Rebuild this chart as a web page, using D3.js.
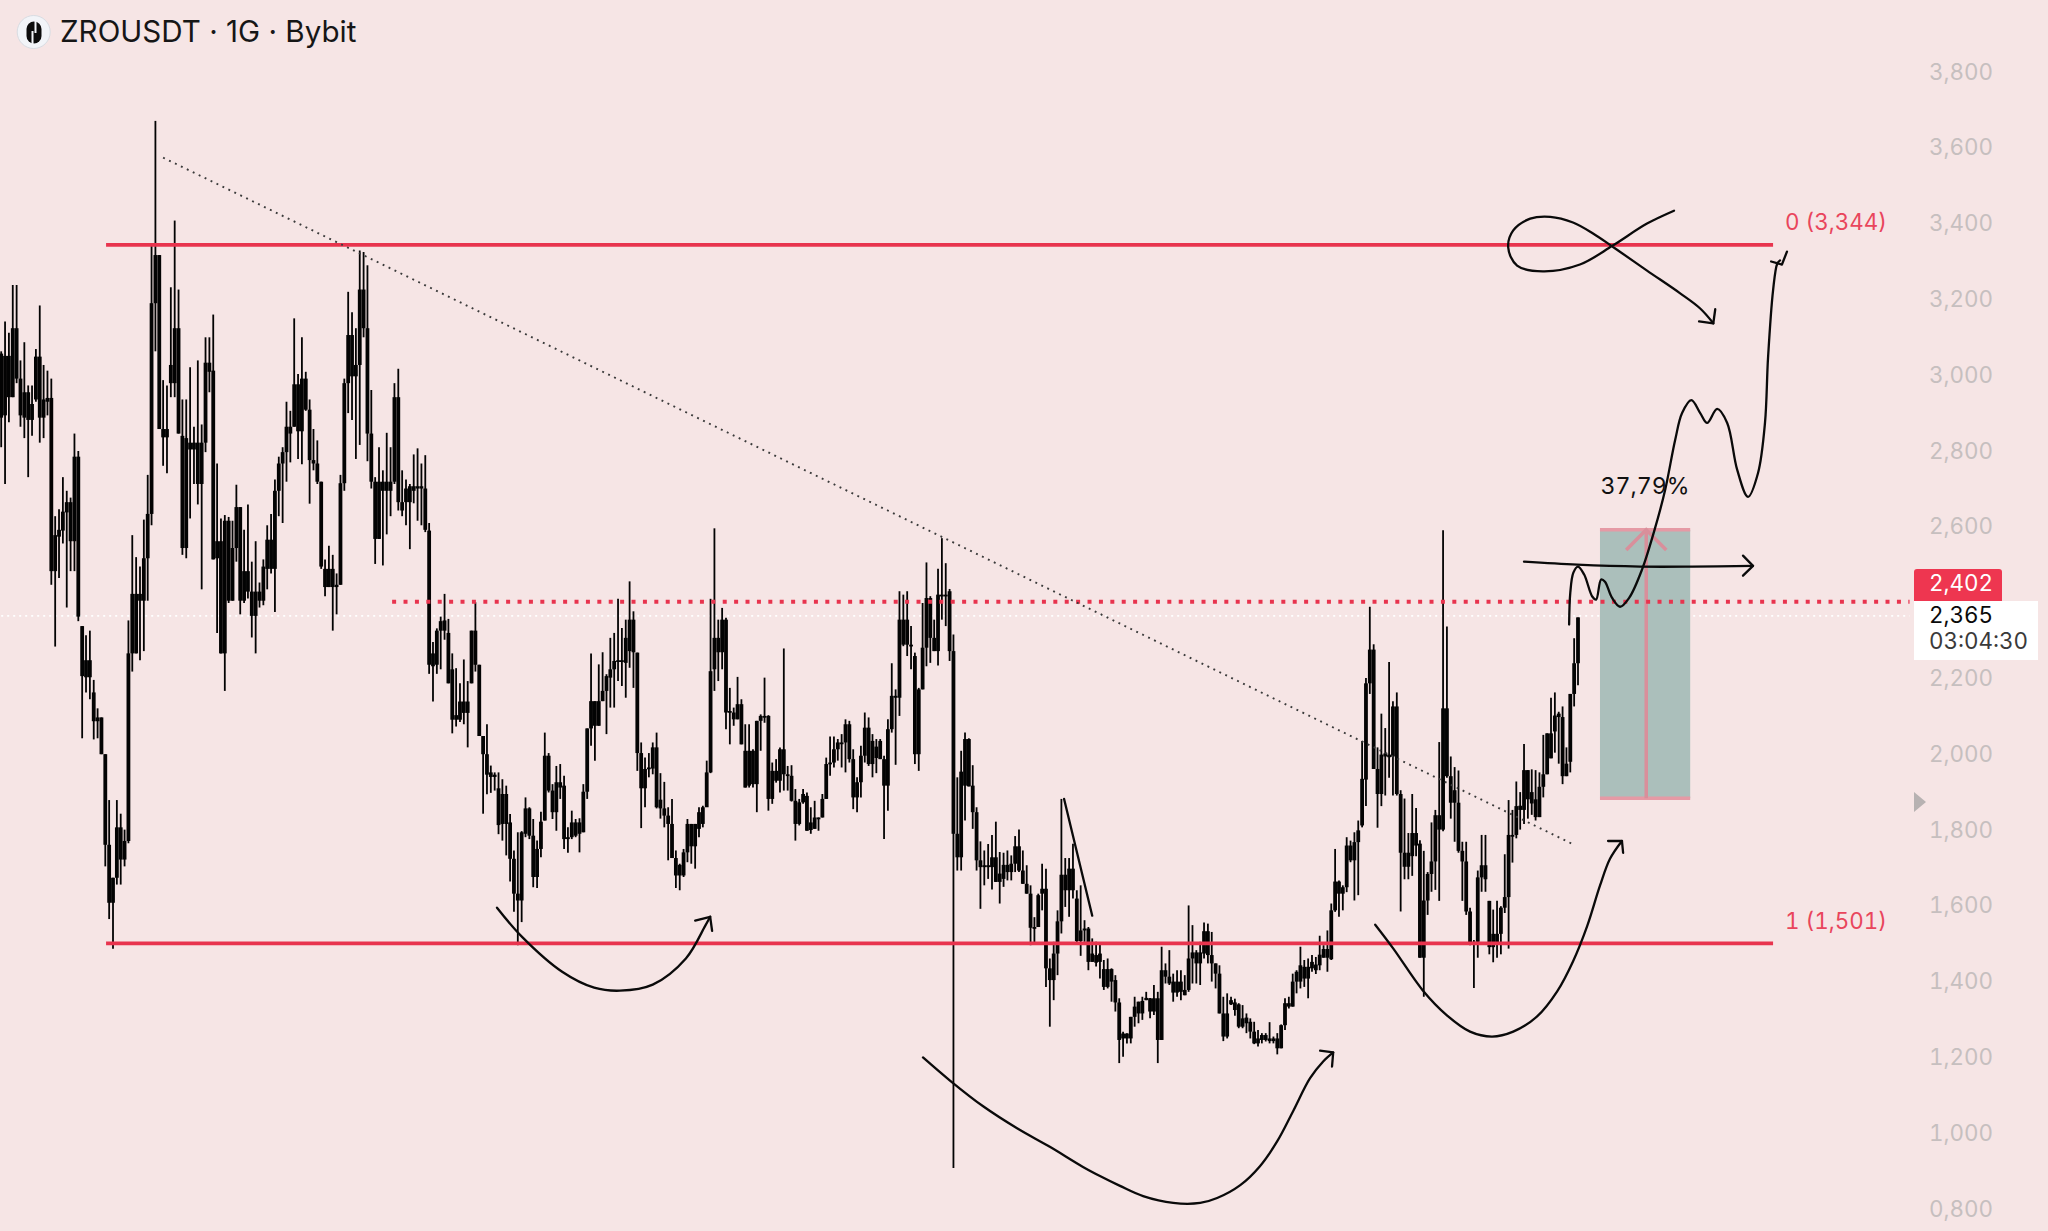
<!DOCTYPE html>
<html>
<head>
<meta charset="utf-8">
<title>ZROUSDT</title>
<script src="https://cdnjs.cloudflare.com/ajax/libs/d3/7.9.0/d3.min.js"></script>
<style>
  html, body { margin: 0; padding: 0; background: #f6e5e5; }
  svg { display: block; }
  text { font-variant-numeric: tabular-nums; }
</style>
</head>
<body>
<svg id="chart"></svg>
<script>
// candles: [high, low, body top, body bottom]
var firstPeaks = [
  [3063,2810,3057,2888],[3142,2713,3051,2894],[3112,2876,3051,2942],[3238,2942,3124,2942],[3238,2979,3124,2991],
  [3039,2864,2991,2894],[3087,2834,2955,2888],[2973,2731,2955,2882],[2973,2840,2924,2882],[3069,2930,3049,2936],
  [3184,2822,3049,2888],[3027,2834,2936,2888],[3012,2894,2940,2930],[2991,2447,2940,2483],[2628,2284,2578,2483],
  [2646,2465,2592,2574],[2731,2556,2640,2590],[2695,2387,2665,2638],[2677,2483,2665,2562],[2846,2483,2785,2562],
  [2800,2351,2785,2363],[2338,2042,2338,2206],[2314,2163,2248,2203],[2326,2145,2248,2203],[2196,2039,2163,2087],
  [2121,2042,2097,2087],[2097,2000,2097,2000],[2000,1704,2000,1761],[1879,1565,1761,1608],[1674,1487,1674,1608],
  [1879,1656,1807,1674],[1843,1656,1807,1722],[1801,1704,1771,1722],[2353,1765,2266,1771],[2578,2218,2423,2266],
  [2520,2266,2423,2266],[2495,2248,2423,2405],[2619,2272,2517,2405],[2737,2405,2634,2517],[3347,2604,3190,2634],
  [3671,3063,3317,3190],[3317,2858,3317,2858],[2987,2761,2858,2836],[2973,2741,2858,2836],[3232,2942,3027,2979],
  [3408,2942,3124,2979],[3226,2846,3124,2846],[2936,2526,2840,2544],[2936,2517,2834,2544],[3021,2622,2822,2804],
  [2864,2713,2822,2804],[3039,2659,2822,2713],[2870,2435,2822,2713],[3100,2797,3033,2822],[3100,2955,3033,3009],
  [3160,2514,3012,2514],[2767,2320,2562,2517],[2622,2266,2562,2266],[2631,2167,2616,2266],[2626,2399,2616,2405],
  [2616,2405,2544,2405],[2711,2508,2652,2544],[2652,2369,2652,2405],[2592,2399,2483,2405],[2659,2411,2483,2429],
  [2508,2308,2429,2365],[2562,2266,2429,2365],[2453,2387,2429,2405],[2514,2393,2495,2405],[2604,2435,2566,2489],
  [2634,2477,2566,2489],[2725,2375,2695,2489],[2785,2628,2767,2695],[2810,2610,2797,2767],[2930,2719,2864,2797],
  [2906,2770,2864,2846],[3150,2864,2976,2864],[3003,2779,2976,2852],[3100,2765,2991,2852],[3009,2906,2991,2909]
];
var upperRange = [
  [2936,2661,2909,2776],[2858,2749,2776,2767],[2828,2713,2767,2719],[2719,2489,2719,2495],[2514,2417,2489,2441],
  [2550,2441,2489,2441],[2526,2326,2489,2441],[2477,2369,2447,2441],[2737,2447,2715,2447],[2991,2695,2979,2715],
  [3220,2900,3106,2979],[3166,2882,3106,2997],[3124,2779,3027,2997],[3329,2816,3226,3027],[3325,3100,3226,3124],
  [3290,2773,3124,2846],[2961,2701,2846,2719],[2731,2502,2719,2568],[2810,2568,2719,2568],[2749,2498,2719,2695],
  [2848,2580,2719,2695],[2810,2628,2719,2695],[2979,2713,2942,2719],[3017,2643,2942,2665],[2749,2628,2665,2643],
  [2725,2604,2701,2665],[2713,2541,2707,2665],[2791,2662,2707,2695],[2807,2616,2707,2701],[2767,2604,2707,2701],
  [2789,2586,2701,2592],[2610,2212,2590,2236],[2296,2139,2266,2232],[2332,2212,2326,2236],[2363,2224,2351,2326],
  [2423,2302,2353,2326],[2357,2187,2320,2187],[2266,2055,2224,2091],[2227,2073,2103,2091],[2187,2085,2139,2091],
  [2250,2079,2139,2109],[2193,2018,2139,2109],[2326,2187,2326,2187],[2401,2218,2326,2236],[2236,2048,2236,2048],
  [2048,1843,2048,2000],[2079,1894,2000,1946],[1970,1898,1952,1940],[1952,1904,1946,1940],[1952,1789,1910,1813]
];
var firstBase = [
  [1934,1772,1895,1816],[1917,1733,1895,1816],[1842,1664,1820,1724],[1746,1584,1724,1632],[1794,1496,1632,1614],
  [1797,1557,1794,1614],[1886,1781,1857,1790],[1860,1776,1857,1785],[1829,1649,1785,1676],[1772,1647,1750,1676],
  [1848,1728,1822,1750],[2057,1825,1996,1825],[2003,1899,1996,1904],[1921,1829,1904,1847],[1969,1798,1926,1847],
  [1974,1882,1926,1912],[1943,1750,1917,1776],[1807,1740,1781,1776],[1851,1776,1820,1781],[1829,1781,1820,1785],
  [1831,1741,1820,1790],[1921,1794,1901,1794],[2068,1882,2068,1901],[2266,2022,2140,2068],[2140,1983,2140,2075],
  [2237,2075,2140,2075],[2269,2140,2167,2140],[2211,2053,2206,2167],[2307,2123,2224,2202],[2320,2123,2246,2224],
  [2410,2193,2248,2246],[2333,2180,2248,2246],[2355,2149,2307,2241],[2456,2228,2355,2272],[2377,2175,2355,2269],
  [2268,1956,2268,2003],[2031,1805,2003,1910],[1991,1860,1961,1910],[2003,1939,1965,1961],[2031,1947,2018,1962],
  [2057,1857,2018,1860],[1950,1830,1880,1857],[1927,1807,1857,1838],[1860,1720,1838,1816],[1882,1726,1816,1726],
  [1746,1647,1726,1680],[1711,1641,1708,1680],[1750,1676,1741,1680],[1829,1715,1816,1741],[1816,1711,1816,1757],
  [1816,1698,1816,1757],[1860,1781,1847,1803],[1864,1807,1860,1816],[1983,1886,1952,1860],[2410,1950,2219,1952]
];
var middleRange = [
  [2596,2167,2307,2224],[2355,2193,2307,2269],[2386,2224,2355,2269],[2360,2066,2355,2110],[2175,2026,2114,2110],
  [2123,2075,2110,2092],[2204,2092,2132,2092],[2145,2026,2132,2026],[2079,1912,2009,1912],[2079,1912,2009,1917],
  [2013,1912,2009,1921],[2088,1847,2088,1921],[2105,2009,2101,2088],[2202,2083,2101,2097],[2103,1851,2101,1882],
  [1978,1869,1956,1882],[1987,1925,1956,1930],[2018,1899,2013,1930],[2279,1904,2013,1947],[1969,1904,1947,1943],
  [1971,1875,1943,1877],[1908,1772,1877,1816],[1882,1812,1873,1816],[1908,1869,1895,1873],[1899,1798,1890,1798],
  [1860,1790,1820,1800],[1877,1803,1833,1803],[1833,1798,1833,1829],[1895,1833,1882,1833],[1991,1882,1974,1882],
  [2047,1943,1978,1974],[2047,1965,2013,1978],[2040,1983,2031,2013],[2053,1965,2031,2029],[2092,1952,2079,2031],
  [2088,1978,2079,1987],[2013,1855,1987,1886],[1939,1847,1926,1886],[2022,1886,1996,1926],[2110,1978,2070,1996],
  [2097,1969,2070,1974],[2053,1939,2035,1974],[2040,1950,2020,1990],[2040,1987,2035,1987],[1996,1776,1987,1917],
  [2092,1851,2066,1917],[2240,2057,2154,2066],[2171,1972,2154,2149],[2430,2101,2355,2149],[2421,2285,2355,2289],
  [2430,2259,2355,2289],[2338,2224,2289,2285],[2268,1974,2259,2000],[2175,1956,2171,2000],[2399,2171,2281,2171],
  [2506,2232,2412,2281],[2417,2241,2412,2307],[2355,2272,2307,2272],[2489,2234,2421,2272],[2570,2355,2421,2417],
  [2504,2338,2421,2417],[2436,2246,2430,2272],[2316,908,2272,1790]
];
var afterWick = [
  [1939,1693,1790,1728],[2009,1693,1954,1728],[2057,1825,2040,1917],[2042,1915,2040,1915],[1971,1803,1917,1847],
  [1860,1693,1847,1720],[1770,1592,1720,1702],[1746,1654,1707,1702],[1763,1671,1707,1702],[1787,1643,1728,1702],
  [1822,1663,1728,1663],[1742,1606,1685,1663],[1740,1650,1708,1671],[1746,1667,1708,1689],[1733,1667,1711,1689],
  [1784,1689,1757,1711],[1801,1689,1757,1693],[1746,1658,1693,1658],[1707,1632,1658,1632],[1654,1496,1632,1542],
  [1570,1500,1544,1540],[1632,1549,1628,1544],[1711,1588,1645,1632],[1698,1386,1645,1435],[1461,1281,1435,1404],
  [1505,1351,1474,1404],[1588,1417,1559,1474],[1882,1527,1682,1559],[1726,1597,1682,1641],[1726,1571,1698,1641],
  [1764,1619,1698,1641],[1641,1500,1619,1507],[1654,1468,1535,1507],[1562,1505,1540,1535],[1544,1430,1540,1452],
  [1514,1452,1474,1452],[1505,1440,1470,1450],[1500,1408,1474,1452]
];
var lowBase = [
  [1457,1378,1433,1386],[1461,1382,1433,1386],[1435,1347,1433,1400],[1417,1321,1404,1345],[1356,1185,1345,1246],
  [1268,1202,1263,1250],[1264,1237,1263,1250],[1307,1237,1307,1250],[1360,1281,1334,1307],[1347,1290,1347,1316],
  [1360,1299,1349,1316],[1373,1351,1357,1351],[1357,1303,1356,1321],[1391,1312,1356,1321],[1373,1185,1356,1246],
  [1492,1246,1430,1246],[1448,1395,1430,1413],[1483,1391,1413,1395],[1421,1347,1400,1371],[1430,1360,1400,1371],
  [1430,1351,1400,1373],[1417,1364,1378,1364],[1601,1373,1461,1378],[1549,1395,1477,1461],[1483,1395,1477,1448],
  [1505,1391,1477,1448],[1556,1461,1533,1474],[1553,1448,1533,1470],[1531,1400,1470,1448],[1448,1382,1448,1421],
  [1443,1316,1421,1316],[1360,1243,1316,1255],[1369,1250,1316,1255],[1360,1338,1351,1340],[1355,1310,1345,1325],
  [1343,1277,1340,1281],[1338,1277,1303,1281],[1316,1264,1305,1290],[1303,1250,1294,1268],[1294,1235,1268,1237],
  [1272,1229,1250,1237],[1264,1237,1259,1246],[1264,1242,1259,1246],[1293,1237,1250,1243],[1255,1237,1250,1243],
  [1264,1208,1250,1224],[1287,1224,1285,1224],[1356,1272,1343,1285],[1360,1329,1343,1334],[1421,1334,1400,1334],
  [1430,1369,1426,1400],[1492,1382,1443,1400],[1457,1386,1439,1408],[1461,1356,1439,1408],[1470,1426,1452,1435],
  [1465,1420,1445,1430],[1521,1430,1471,1443],[1496,1463,1486,1463],[1535,1426,1486,1463],[1606,1457,1588,1459],
  [1750,1584,1664,1588],[1667,1571,1664,1632],[1654,1588,1649,1632],[1781,1636,1759,1649],[1772,1715,1759,1720],
  [1794,1614,1768,1720],[1825,1628,1799,1768],[2035,1807,1935,1812]
];
var lastLeg = [
  [2201,1863,2187,1933],[2389,2159,2276,2187],[2290,1961,2276,1961],[2018,1806,1961,1895],[2107,1863,1999,1895],
  [2069,1891,2002,1994],[2243,1938,1999,1992],[2140,1891,2126,1994],[2163,1891,2126,1895],[1905,1585,1895,1740],
  [1883,1670,1740,1703],[1792,1670,1740,1703],[1895,1679,1792,1731],[1858,1731,1792,1759],[1773,1463,1764,1463],
  [1745,1360,1614,1463],[1689,1576,1684,1614],[1820,1637,1717,1684],[1853,1642,1839,1717],[2032,1613,1839,1801],
  [2591,1797,2121,1801],[2337,1938,2121,1942],[1994,1830,1942,1872],[1966,1769,1905,1872],[1957,1740,1872,1745],
  [1769,1613,1745,1717],[1769,1576,1717,1585],[1595,1496,1585,1501],[1510,1383,1505,1498],[1693,1463,1675,1505],
  [1787,1637,1707,1675],[1787,1637,1707,1670],[1613,1472,1613,1491],[1590,1451,1526,1491],[1613,1463,1526,1501],
  [1599,1472,1595,1526],[1736,1581,1623,1595],[1879,1487,1787,1623],[1853,1714,1787,1783],[1928,1778,1863,1787],
  [1900,1801,1864,1853],[2027,1816,1958,1853],[1958,1830,1958,1881],[1960,1840,1900,1870],[1958,1825,1881,1834],
  [1952,1834,1914,1834],[2051,1886,1947,1914],[2055,1947,2055,1947],[2149,1989,2055,1989],[2163,2004,2102,2060],
  [2112,1975,2107,2098],[2126,1921,2098,1942],[2018,1942,1975,1942],[2159,1952,2159,1980],[2306,2126,2240,2159],
  [2361,2182,2361,2240]
];

// 2,400 sits behind the price tags, so it is not on the axis
var axisTicks = [800,1000,1200,1400,1600,1800,2000,2200,2600,2800,3000,3200,3400,3600,3800];
var fibLevels = [3344, 1501];
var fibLabels = ["0 (3,344)", "1 (1,501)"];
var fibBars = [27.2, 459.6];
var entryLevel = 2402;
var entryBars = [101.4, 495];
var lastPrice = 2365;
var lastPriceBars = [0, 495];
var targetBars = [414.7, 438.1, 426.7];
var targetPrices = [2592, 1884];
var targetHead = [[421.5,2539],[426.7,2592],[431.9,2539]];
var trendLine = [[42,3574],[408,1761]];

// hand drawn stuff, as [bar, price]
var sketchLeft = [[128.6,1595],[135.1,1518],[145.5,1426],[153.8,1384],[160.5,1376],[169,1392],[177.6,1461],[182.6,1547],[183.9,1571]];
var sketchLeftHead = [[180,1561],[183.9,1571],[184.4,1534]];
var sketchMiddle = [[239.1,1200],[246.1,1139],[254.7,1071],[263.5,1013],[272,964],[280.6,911],[285,887],[290.2,861],[296.2,834],[304,816],[311,816],[315.4,829],[321.4,863],[326.5,913],[331,979],[335.1,1058],[339.5,1145],[342.9,1189],[345.5,1213]];
var sketchMiddleHead = [[342.1,1218],[345.5,1213],[345.2,1176]];
var sketchWedge = [[275.7,1882],[283,1574]];
var sketchRight = [[356.4,1550],[361.1,1487],[368.8,1376],[375,1311],[381,1268],[386.7,1255],[392.2,1268],[398.4,1308],[403.6,1374],[407.7,1453],[411.4,1547],[414.7,1653],[417.3,1724],[420.4,1771]];
var sketchRightHead = [[416.8,1771],[420.4,1771],[420.7,1740]];
var sketchFlat = [[395,2508],[408.8,2500],[425.1,2495],[438.6,2495],[454.4,2497]];
var sketchFlatHead = [[451.8,2524],[454.4,2497],[451.8,2471]];
var sketchPath = [[406.7,2342],[407,2426],[407.8,2479],[409,2495],[410.6,2474],[412.7,2416],[413.7,2408],[415,2461],[416,2455],[417.8,2413],[419.9,2389],[422.3,2413],[425.6,2487],[429,2597],[431.6,2697],[434.2,2829],[436,2900],[438.4,2934],[440.7,2900],[442.5,2874],[445.1,2911],[447.7,2874],[450.3,2750],[453.1,2679],[455.7,2742],[457.5,2874],[458.3,3047],[459.6,3224],[460.7,3295],[461.4,3303]];
var sketchCheck = [[459.1,3300],[461.9,3292],[463.2,3326]];
var sketchLoop = [[433.9,3434],[426.9,3400],[418,3342],[409.5,3292],[399.9,3274],[393.2,3289],[390.9,3337],[392.2,3382],[396.6,3413],[401.8,3418],[407.7,3403],[412.9,3374],[418,3339],[426.9,3276],[435.5,3216],[440.7,3176],[444.1,3137]];
var sketchLoopHead = [[440.4,3142],[444.1,3137],[444.6,3174]];

var candles = [].concat(firstPeaks, upperRange, firstBase, middleRange, afterWick, lowBase, lastLeg);

var width = 2048, height = 1231;
var redColor = "#e8344e";
var fontName = "Inter, 'Liberation Sans', sans-serif";

var svg = d3.select("#chart")
  .attr("width", width)
  .attr("height", height)
  .style("font-family", fontName);

svg.append("rect").attr("width", width).attr("height", height).attr("fill", "#f6e5e5");

var x = d3.scaleLinear().domain([0, candles.length - 1]).range([1.2, 1578]);
var y = d3.scaleLinear().domain([3800, 800]).range([72, 1209]);

// price axis
var yAxis = d3.axisRight(y)
  .tickValues(axisTicks)
  .tickSize(0)
  .tickPadding(0)
  .tickFormat(d3.format("05,"));

var axisG = svg.append("g")
  .attr("transform", "translate(1929,0)")
  .call(yAxis);
axisG.select(".domain").remove();
axisG.selectAll("text")
  .attr("fill", "#c6bfbf")
  .style("font-family", fontName)
  .style("font-size", "22.4px");

// current price dots go under everything else
svg.append("line")
  .attr("x1", x(lastPriceBars[0])).attr("x2", x(lastPriceBars[1]))
  .attr("y1", y(lastPrice)).attr("y2", y(lastPrice))
  .attr("stroke", "#ffffff")
  .attr("stroke-width", 1.6)
  .attr("stroke-dasharray", "2 4");

// long target box
var box = svg.append("g");
box.append("rect")
  .attr("x", x(targetBars[0]))
  .attr("y", y(targetPrices[0]))
  .attr("width", x(targetBars[1]) - x(targetBars[0]))
  .attr("height", y(targetPrices[1]) - y(targetPrices[0]))
  .attr("fill", "#abbfbb");

box.selectAll("line.edge").data(targetPrices).enter().append("line")
  .attr("class", "edge")
  .attr("x1", x(targetBars[0])).attr("x2", x(targetBars[1]))
  .attr("y1", d => y(d)).attr("y2", d => y(d))
  .attr("stroke", "#e59aa5")
  .attr("stroke-width", 3.5);

box.append("line")
  .attr("x1", x(targetBars[2])).attr("x2", x(targetBars[2]))
  .attr("y1", y(targetPrices[0])).attr("y2", y(targetPrices[1]))
  .attr("stroke", "#d98f9b")
  .attr("stroke-width", 3.5);

var straight = d3.line().x(d => x(d[0])).y(d => y(d[1]));
var smooth = d3.line().x(d => x(d[0])).y(d => y(d[1])).curve(d3.curveCatmullRom.alpha(0.5));

box.append("path")
  .attr("d", straight(targetHead))
  .attr("fill", "none")
  .attr("stroke", "#d98f9b")
  .attr("stroke-width", 3.5);

// candles
var candleG = svg.append("g");
candleG.selectAll("line.wick").data(candles).enter().append("line")
  .attr("class", "wick")
  .attr("x1", (d, i) => x(i)).attr("x2", (d, i) => x(i))
  .attr("y1", d => y(d[0])).attr("y2", d => y(d[1]))
  .attr("stroke", "#030303")
  .attr("stroke-width", 1.8);

candleG.selectAll("rect.body").data(candles).enter().append("rect")
  .attr("class", "body")
  .attr("x", (d, i) => x(i) - 1.9)
  .attr("y", d => y(d[2]))
  .attr("width", 3.8)
  .attr("height", d => Math.max(y(d[3]) - y(d[2]), 1.8))
  .attr("fill", "#030303");

// levels
svg.selectAll("line.level").data(fibLevels).enter().append("line")
  .attr("class", "level")
  .attr("x1", x(fibBars[0])).attr("x2", x(fibBars[1]))
  .attr("y1", d => y(d)).attr("y2", d => y(d))
  .attr("stroke", redColor)
  .attr("stroke-width", 3.8);

svg.append("line")
  .attr("x1", x(entryBars[0])).attr("x2", x(entryBars[1]))
  .attr("y1", y(entryLevel)).attr("y2", y(entryLevel))
  .attr("stroke", redColor)
  .attr("stroke-width", 4)
  .attr("stroke-dasharray", "4 7.4");

svg.selectAll("text.level-label").data(fibLabels).enter().append("text")
  .attr("class", "level-label")
  .attr("x", 1887)
  .attr("y", (d, i) => y(fibLevels[i]) - 20.5)
  .attr("text-anchor", "end")
  .attr("dominant-baseline", "middle")
  .attr("fill", "#e9455c")
  .style("font-size", "22.4px")
  .text(d => d);

// dotted trend line
svg.append("path")
  .attr("d", straight(trendLine))
  .attr("fill", "none")
  .attr("stroke", "#3a3a3a")
  .attr("stroke-width", 1.9)
  .attr("stroke-dasharray", "1.9 4.7");

// the pen drawings
var curves = [sketchLeft, sketchMiddle, sketchRight, sketchFlat, sketchPath, sketchLoop];
var strokes = [sketchLeftHead, sketchMiddleHead, sketchRightHead, sketchFlatHead, sketchCheck, sketchLoopHead, sketchWedge];

svg.selectAll("path.curve").data(curves).enter().append("path")
  .attr("class", "curve")
  .attr("d", smooth)
  .attr("fill", "none")
  .attr("stroke", "#0a0a0a")
  .attr("stroke-width", 2.3)
  .attr("stroke-linecap", "round");

svg.selectAll("path.stroke").data(strokes).enter().append("path")
  .attr("class", "stroke")
  .attr("d", straight)
  .attr("fill", "none")
  .attr("stroke", "#0a0a0a")
  .attr("stroke-width", 2.3)
  .attr("stroke-linejoin", "round")
  .attr("stroke-linecap", "round");

svg.append("text")
  .attr("x", 1645)
  .attr("y", 488)
  .attr("text-anchor", "middle")
  .attr("dominant-baseline", "middle")
  .attr("fill", "#111")
  .style("font-size", "23.2px")
  .text("37,79%");

// price tags on the right
svg.append("path")
  .attr("d", "M1914,601V572a3,3 0 0 1 3,-3H1999a3,3 0 0 1 3,3V601Z")
  .attr("fill", "#ee3650");
svg.append("text")
  .attr("x", 1929).attr("y", 585)
  .attr("dominant-baseline", "middle")
  .attr("fill", "#ffffff")
  .style("font-size", "22.4px")
  .text(d3.format(",")(entryLevel));

svg.append("rect")
  .attr("x", 1914).attr("y", 601)
  .attr("width", 124).attr("height", 59)
  .attr("fill", "#ffffff");
svg.append("text")
  .attr("x", 1929).attr("y", 617)
  .attr("dominant-baseline", "middle")
  .attr("fill", "#0a0a0a")
  .style("font-size", "22.4px")
  .text(d3.format(",")(lastPrice));
svg.append("text")
  .attr("x", 1929).attr("y", 643)
  .attr("dominant-baseline", "middle")
  .attr("fill", "#3a3a3a")
  .style("font-size", "22.4px")
  .text("03:04:30");

svg.append("path")
  .attr("d", "M1914,792L1926,802L1914,812Z")
  .attr("fill", "#b7b2b2");

// title + logo
svg.append("circle")
  .attr("cx", 33.7).attr("cy", 32).attr("r", 16.5)
  .attr("fill", "#f2f4f8")
  .attr("stroke", "#d8dce2")
  .attr("stroke-width", 1);
svg.append("rect")
  .attr("x", 26.5).attr("y", 21.5)
  .attr("width", 15).attr("height", 22)
  .attr("rx", 7.5)
  .attr("fill", "#0c0c0c");
svg.append("path")
  .attr("d", "M32.5,31V44M35.5,21V33")
  .attr("stroke", "#f2f4f8")
  .attr("stroke-width", 2)
  .attr("fill", "none");

svg.append("text")
  .attr("x", 60)
  .attr("y", 42)
  .attr("fill", "#161616")
  .style("font-size", "29.6px")
  .style("font-variant-numeric", "normal")
  .text("ZROUSDT · 1G · Bybit");
</script>
</body>
</html>
